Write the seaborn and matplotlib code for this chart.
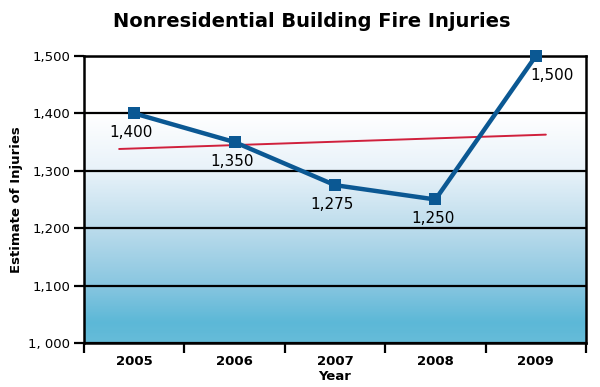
import numpy as np
import matplotlib
matplotlib.use('Agg')
import matplotlib.pyplot as plt
import seaborn as sns
from matplotlib.colors import LinearSegmentedColormap

# Chart data
years = ['2005', '2006', '2007', '2008', '2009']
injuries = [1400, 1350, 1275, 1250, 1500]
point_labels = ['1,400', '1,350', '1,275', '1,250', '1,500']
y_ticks = [1000, 1100, 1200, 1300, 1400, 1500]
y_tick_labels = ['1, 000', '1,100', '1,200', '1,300', '1,400', '1,500']
trend_x = [-0.15, 4.1]
trend_y = [1338, 1363]


def main():
    sns.set_theme(style='white')
    plt.rcParams['font.family'] = ['DejaVu Sans']
    plt.rcParams['text.color'] = 'black'
    plt.rcParams['axes.labelcolor'] = 'black'
    plt.rcParams['xtick.color'] = 'black'
    plt.rcParams['ytick.color'] = 'black'

    fig = plt.figure(figsize=(6, 3.87), dpi=100)
    ax = fig.add_axes([0.14, 0.1137, 0.8367, 0.7416])

    # background gradient, white at top to blue at bottom
    cmap = LinearSegmentedColormap.from_list('bg', [
        (0.0, '#66bcd9'), (0.07, '#5cb8d7'), (0.2, '#88c6e0'),
        (0.4, '#bcdcec'), (0.6, '#e8f2f9'), (0.8, '#ffffff'), (1.0, '#ffffff')])
    grad = np.linspace(0, 1, 256).reshape(-1, 1)
    ax.imshow(grad, cmap=cmap, origin='lower', aspect='auto',
              extent=[-0.5, 4.5, 1000, 1500], zorder=0)

    for t in y_ticks:
        ax.axhline(t, color='black', lw=1.6, zorder=1)

    xs = np.arange(len(years))
    ax.plot(trend_x, trend_y, color='#d0203c', lw=1.4, zorder=2)
    sns.lineplot(x=xs, y=injuries, ax=ax, color='#0b5893', lw=3.2,
                 marker='s', markersize=9, markeredgewidth=0, zorder=3,
                 clip_on=False)

    for i, (v, lab) in enumerate(zip(injuries, point_labels)):
        off = (12, -14) if i == len(injuries) - 1 else (-2, -14)
        ax.annotate(lab, (i, v), xytext=off, textcoords='offset points',
                    ha='center', va='center', fontsize=11)

    ax.set_xlim(-0.5, 4.5)
    ax.set_ylim(1000, 1500)
    ax.set_yticks(y_ticks)
    ax.set_yticklabels(y_tick_labels, fontsize=9.5)
    ax.set_xticks(xs)
    ax.set_xticklabels(years, fontsize=9.5, fontweight='bold')
    ax.set_xticks(np.arange(-0.5, 5, 1), minor=True)
    ax.tick_params(axis='x', which='major', length=0, pad=9)
    ax.tick_params(axis='x', which='minor', length=7, width=1.6, bottom=True)
    ax.tick_params(axis='y', length=7, width=1.6, left=True, pad=3)

    for s in ax.spines.values():
        s.set_color('black')
        s.set_linewidth(1.8)

    ax.set_xlabel('Year', fontsize=9.5, fontweight='bold', labelpad=1)
    ax.set_ylabel('Estimate of Injuries', fontsize=9.5, fontweight='bold', labelpad=4)
    fig.text(0.52, 0.945, 'Nonresidential Building Fire Injuries',
             ha='center', va='center', fontsize=14, fontweight='bold')

    fig.savefig('out.png', dpi=100)


if __name__ == '__main__':
    main()
